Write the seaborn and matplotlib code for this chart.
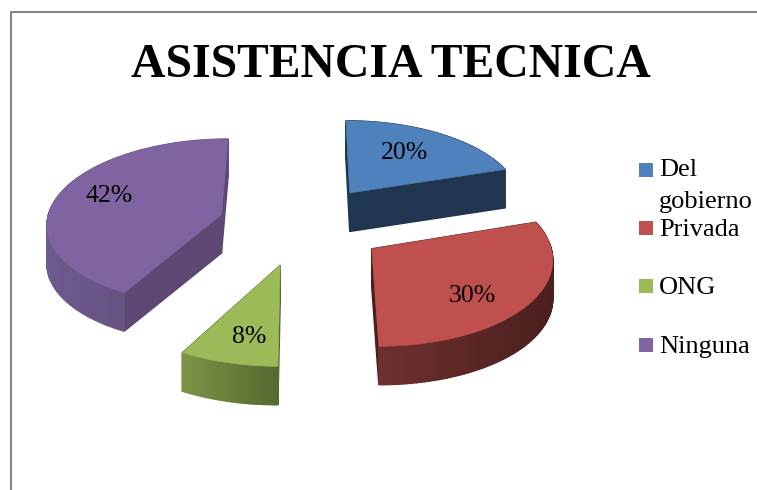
import numpy as np
import matplotlib
matplotlib.use('Agg')
import matplotlib.pyplot as plt
import matplotlib.colors as mcolors
import seaborn as sns

title = 'ASISTENCIA TECNICA'
categories = ['Del\ngobierno', 'Privada', 'ONG', 'Ninguna']
values = [20, 30, 8, 42]

top_colors = ['#4F81BD', '#C0504D', '#9BBB59', '#8064A2']
# rim colour at the left and right end of each slice, then colour of the cut faces
rim_left = ['#1F3550', '#6E302E', '#7D9446', '#6E5A8E']
rim_right = ['#1F3550', '#4A1F1D', '#566A30', '#5C4873']
cut_colors = ['#1F3550', '#4A1F1D', '#566A30', '#5C4873']

# projection of the tilted pie onto the page, in pixels
CX, CY = 302, 224.5
RX, RY = 175, 84
PERSP = 0.09
DEPTH = 38.5


def project(x, y):
    x = np.asarray(x, dtype=float)
    y = np.asarray(y, dtype=float)
    w = 1 + PERSP * y
    return CX + RX * x / w, CY - RY * y / w


sns.set_theme(style='white')
plt.rcParams['font.family'] = ['Liberation Serif', 'DejaVu Serif']

fig, ax = plt.subplots(figsize=(7.57, 4.90), dpi=100)
fig.subplots_adjust(left=0, right=1, bottom=0, top=1)

wedges, _, autotexts = ax.pie(values, explode=[0.48] * 4, startangle=90, counterclock=False,
                              colors=sns.color_palette(top_colors), autopct='%1.0f%%',
                              pctdistance=0.68, radius=1)

ax.set_aspect('auto')
ax.set_xlim(0, 757)
ax.set_ylim(490, 0)

# nudge of the percent labels, in pixels
pct_nudge = [(-8, 1), (-5, 10), (3, 8), (-1, -5)]

for i, w in enumerate(wedges):
    w.set_visible(False)
    t = np.radians(np.linspace(w.theta1, w.theta2, 80))
    cx, cy = w.center
    xs = np.r_[cx, cx + w.r * np.cos(t)]
    ys = np.r_[cy, cy + w.r * np.sin(t)]
    px, py = project(xs, ys)

    # side walls, far ones first, then the top face over them
    quads = []
    n = len(px)
    for j in range(n):
        k = (j + 1) % n
        is_cut = j == 0 or k == 0
        quads.append((py[j] + py[k], j, k, is_cut))
    quads.sort(key=lambda q: q[0])
    left_c = np.array(mcolors.to_rgb(rim_left[i]))
    right_c = np.array(mcolors.to_rgb(rim_right[i]))
    for _, j, k, is_cut in quads:
        if is_cut:
            c = cut_colors[i]
        else:
            f = ((px[j] + px[k]) / 2 - px[1:].min()) / (px[1:].max() - px[1:].min())
            c = tuple(left_c + (right_c - left_c) * f)
        ax.fill([px[j], px[k], px[k], px[j]],
                [py[j], py[k], py[k] + DEPTH, py[j] + DEPTH],
                facecolor=c, edgecolor=c, lw=1.0, zorder=2)
    ax.fill(px, py, facecolor=top_colors[i], edgecolor=top_colors[i], lw=0.4, zorder=3)

    tx, ty = autotexts[i].get_position()
    lx, ly = project(tx, ty)
    autotexts[i].set_position((float(lx) + pct_nudge[i][0], float(ly) + pct_nudge[i][1]))
    autotexts[i].set(fontsize=18.5, color='black', zorder=5, ha='center', va='center')

# chart border, only top and left are inside the crop
ax.plot([11, 11, 757], [490, 12, 12], color='#868686', lw=1.5, clip_on=False, zorder=1)

ax.text(390.5, 77, title, fontsize=34.3, fontweight='bold', color='black', ha='center', va='baseline')

# legend
legend_y = [170, 228, 286, 345]
for name, color, y in zip(categories, top_colors, legend_y):
    ax.scatter([646], [y], marker='s', s=102, color=color, linewidths=0, zorder=4)
    extra = name.count('\n') * 30
    ax.text(659, y + 8 + extra, name, fontsize=19, color='black', ha='left', va='baseline',
            linespacing=1.6, zorder=6)

fig.savefig('out.png', dpi=100)
